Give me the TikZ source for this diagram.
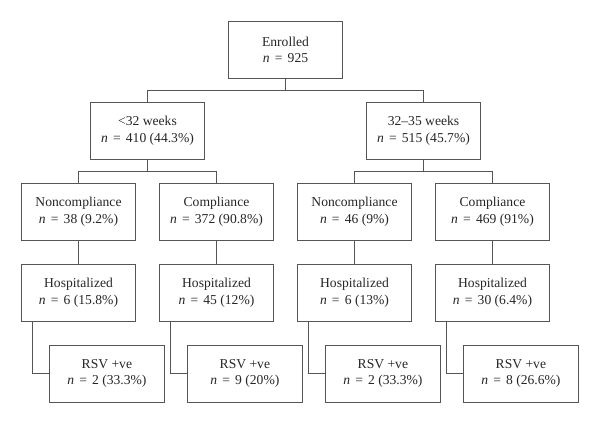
\documentclass[tikz,border=0pt]{standalone}
\usepackage{fontspec}
\setmainfont{Liberation Serif}
\newcommand{\nEq}{\textit{n}\hspace{0.38em}=\hspace{0.38em}}
\begin{document}
\begin{tikzpicture}[x=1pt,y=-1pt,
  box/.style={draw=linegray, line width=0.9pt, minimum width=114.3pt, minimum height=57pt, inner sep=0pt, align=center, font=\fontsize{13.6}{16.2}\selectfont, text=black!85},
  conn/.style={draw=linegray, line width=0.9pt}]
\definecolor{linegray}{RGB}{85,85,85}
\useasboundingbox (0,0) rectangle (600,424);
\node[box] (e) at (285.5,49.7) {Enrolled\\\nEq 925};
\node[box] (lt) at (147.5,130.8) {<32 weeks\\\nEq 410 (44.3\%)};
\node[box] (rt) at (423.5,130.8) {32--35 weeks\\\nEq 515 (45.7\%)};
\node[box] (c1) at (78.5,211.8) {Noncompliance\\\nEq 38 (9.2\%)};
\node[box] (c2) at (216.5,211.8) {Compliance\\\nEq 372 (90.8\%)};
\node[box] (c3) at (354.5,211.8) {Noncompliance\\\nEq 46 (9\%)};
\node[box] (c4) at (492.5,211.8) {Compliance\\\nEq 469 (91\%)};
\node[box] (h1) at (78.5,292.8) {Hospitalized\\\nEq 6 (15.8\%)};
\node[box] (h2) at (216.5,292.8) {Hospitalized\\\nEq 45 (12\%)};
\node[box] (h3) at (354.5,292.8) {Hospitalized\\\nEq 6 (13\%)};
\node[box] (h4) at (492.5,292.8) {Hospitalized\\\nEq 30 (6.4\%)};
\node[box] (r1) at (106.9,373.8) {RSV +ve\\\nEq 2 (33.3\%)};
\node[box] (r2) at (244.9,373.8) {RSV +ve\\\nEq 9 (20\%)};
\node[box] (r3) at (382.9,373.8) {RSV +ve\\\nEq 2 (33.3\%)};
\node[box] (r4) at (520.9,373.8) {RSV +ve\\\nEq 8 (26.6\%)};
\draw[conn] (e.south) -- ++(0,11.7) -| (lt.north);
\draw[conn] (e.south) -- ++(0,11.7) -| (rt.north);
\draw[conn] (lt.south) -- ++(0,12) -| (c1.north);
\draw[conn] (lt.south) -- ++(0,12) -| (c2.north);
\draw[conn] (rt.south) -- ++(0,12) -| (c3.north);
\draw[conn] (rt.south) -- ++(0,12) -| (c4.north);
\draw[conn] (c1) -- (h1);
\draw[conn] (c2) -- (h2);
\draw[conn] (c3) -- (h3);
\draw[conn] (c4) -- (h4);
\draw[conn] ([xshift=11.4pt]h1.south west) |- (r1.west);
\draw[conn] ([xshift=11.4pt]h2.south west) |- (r2.west);
\draw[conn] ([xshift=11.4pt]h3.south west) |- (r3.west);
\draw[conn] ([xshift=11.4pt]h4.south west) |- (r4.west);
\end{tikzpicture}
\end{document}
